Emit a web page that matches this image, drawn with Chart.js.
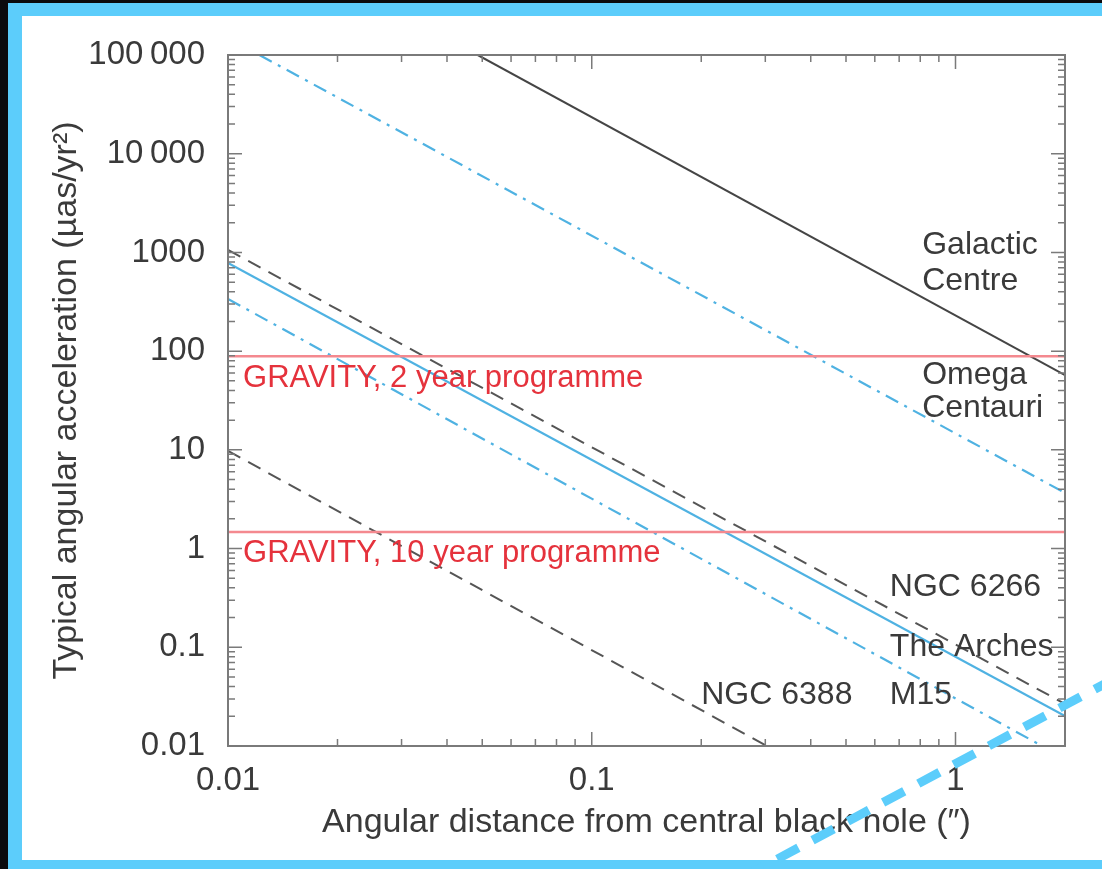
<!DOCTYPE html>
<html>
<head>
<meta charset="utf-8">
<script src="https://cdn.jsdelivr.net/npm/chart.js@4"></script>
<style>
  html, body { margin: 0; padding: 0; width: 1102px; height: 869px; overflow: hidden; background: #0b0b0d; }
  #frame { position: absolute; left: 8px; top: 3px; width: 1200px; height: 870px; box-sizing: border-box;
           border: 13px solid #5ccdfb; border-left-width: 14px; background: #fff; }
  #chart { position: absolute; left: 0; top: 0; }
  #deco { position: absolute; left: 0; top: 0; }
</style>
</head>
<body>
<div id="frame"></div>
<canvas id="chart" width="1102" height="869"></canvas>
<svg id="deco" width="1102" height="869">
  <line x1="742" y1="878" x2="1112" y2="680" stroke="#5ccdfb" stroke-width="9" stroke-dasharray="24 16"/>
</svg>
<script>
// curves (angular distance in arcsec, acceleration in µas/yr²), end points
const galacticX = [0.0486, 2],  galacticY = [100000, 57];
const omegaX    = [0.0122, 2],  omegaY    = [100000, 3.66];
const ngc6266X  = [0.01, 2],    ngc6266Y  = [1060, 0.0267];
const archesX   = [0.01, 2],    archesY   = [783, 0.0201];
const m15X      = [0.01, 1.73], m15Y      = [338, 0.01];
const ngc6388X  = [0.01, 0.303],ngc6388Y  = [9.75, 0.01];
const gravity2X = [0.01, 2],    gravity2Y = [89, 89];
const gravity10X= [0.01, 2],    gravity10Y= [1.47, 1.47];

// tick labels
const xTickValues = [0.01, 0.1, 1];
const xTickLabels = ['0.01', '0.1', '1'];
const yTickValues = [0.01, 0.1, 1, 10, 100, 1000, 10000, 100000];
const yTickLabels = ['0.01', '0.1', '1', '10', '100', '1000', '10\u2009000', '100\u2009000'];

// text annotations
const noteTexts = ['Galactic', 'Centre', 'Omega', 'Centauri', 'NGC 6266', 'The Arches', 'NGC 6388', 'M15',
                   'GRAVITY, 2 year programme', 'GRAVITY, 10 year programme'];
const noteX = [0.81, 0.81, 0.81, 0.81, 0.66, 0.66, 0.20, 0.66, 0.011, 0.011];
const noteY = [1190, 514, 57.4, 26.6, 0.41, 0.10, 0.033, 0.033, 53.5, 0.90];

const TEXT = '#3a3a3a';
const RED_TEXT = '#e5323c';
const BLUE = '#4fb2e2';
const GREY = '#555555';

function pts(xs, ys) {
    return xs.map((x, i) => ({x: x, y: ys[i]}));
}

const boxAndTicks = {
    id: 'boxAndTicks',
    afterDatasetsDraw(chart) {
        const ctx = chart.ctx;
        const a = chart.chartArea;
        const xs = chart.scales.x, ys = chart.scales.y;
        ctx.save();
        ctx.strokeStyle = '#7a7a7a';
        ctx.lineWidth = 2;
        ctx.strokeRect(a.left, a.top, a.right - a.left, a.bottom - a.top);
        ctx.lineWidth = 1.5;
        ctx.beginPath();
        for (let d = -2; d <= 5; d++) {
            for (let k = 1; k <= 9; k++) {
                const v = k * Math.pow(10, d);
                const len = k === 1 ? 14 : 7;
                if (v >= xs.min && v <= xs.max && d <= 0) {
                    const px = xs.getPixelForValue(v);
                    ctx.moveTo(px, a.bottom); ctx.lineTo(px, a.bottom - len);
                    ctx.moveTo(px, a.top); ctx.lineTo(px, a.top + len);
                }
                if (v >= ys.min && v <= ys.max) {
                    const py = ys.getPixelForValue(v);
                    ctx.moveTo(a.left, py); ctx.lineTo(a.left + len, py);
                    ctx.moveTo(a.right, py); ctx.lineTo(a.right - len, py);
                }
            }
        }
        ctx.stroke();

        ctx.textBaseline = 'middle';
        ctx.textAlign = 'left';
        noteTexts.forEach((t, i) => {
            const red = t.startsWith('GRAVITY');
            ctx.font = (red ? '31px' : '32px') + ' "Liberation Sans", Arial, sans-serif';
            ctx.fillStyle = red ? RED_TEXT : TEXT;
            ctx.fillText(t, xs.getPixelForValue(noteX[i]), ys.getPixelForValue(noteY[i]));
        });
        ctx.restore();
    }
};

const chartCanvas = document.querySelector('#chart').getContext('2d');

let accelChart = new Chart(chartCanvas, {
    type: 'line',
    data: {
        datasets: [
            { label: 'GRAVITY, 2 year programme', data: pts(gravity2X, gravity2Y), borderColor: '#f4898f', borderWidth: 2.5 },
            { label: 'GRAVITY, 10 year programme', data: pts(gravity10X, gravity10Y), borderColor: '#f4898f', borderWidth: 2.5 },
            { label: 'Galactic Centre', data: pts(galacticX, galacticY), borderColor: '#454545', borderWidth: 2 },
            { label: 'Omega Centauri', data: pts(omegaX, omegaY), borderColor: BLUE, borderWidth: 2.2, borderDash: [14, 7, 3, 7] },
            { label: 'NGC 6266', data: pts(ngc6266X, ngc6266Y), borderColor: GREY, borderWidth: 2, borderDash: [14, 9] },
            { label: 'The Arches', data: pts(archesX, archesY), borderColor: BLUE, borderWidth: 2.2 },
            { label: 'M15', data: pts(m15X, m15Y), borderColor: BLUE, borderWidth: 2.2, borderDash: [14, 7, 3, 7] },
            { label: 'NGC 6388', data: pts(ngc6388X, ngc6388Y), borderColor: GREY, borderWidth: 2, borderDash: [14, 9] }
        ]
    },
    options: {
        responsive: false,
        animation: false,
        events: [],
        layout: { padding: { left: 0, top: 55, right: 37, bottom: 0 } },
        elements: { point: { radius: 0 }, line: { tension: 0, fill: false } },
        plugins: {
            legend: { display: false },
            title: { display: false },
            tooltip: { enabled: false }
        },
        scales: {
            x: {
                type: 'logarithmic',
                min: 0.01,
                max: 2,
                grid: { display: false },
                border: { display: false },
                afterBuildTicks: s => { s.ticks = xTickValues.map(v => ({value: v, major: true})); },
                afterFit: s => { s.height = 123; },
                ticks: {
                    autoSkip: false,
                    maxRotation: 0,
                    padding: 7,
                    color: TEXT,
                    font: { family: '"Liberation Sans", Arial, sans-serif', size: 33 },
                    callback: (v) => xTickLabels[xTickValues.indexOf(v)]
                },
                title: {
                    display: true,
                    text: 'Angular distance from central black hole (\u2033)',
                    color: TEXT,
                    padding: { top: 0, bottom: 26 },
                    font: { family: '"Liberation Sans", Arial, sans-serif', size: 34 }
                }
            },
            y: {
                type: 'logarithmic',
                min: 0.01,
                max: 100000,
                grid: { display: false },
                border: { display: false },
                afterBuildTicks: s => { s.ticks = yTickValues.map(v => ({value: v, major: true})); },
                afterFit: s => { s.width = 228; },
                ticks: {
                    autoSkip: false,
                    padding: 15,
                    color: TEXT,
                    font: { family: '"Liberation Sans", Arial, sans-serif', size: 33 },
                    callback: (v) => yTickLabels[yTickValues.indexOf(v)]
                },
                title: {
                    display: true,
                    text: 'Typical angular acceleration (\u00b5as/yr\u00b2)',
                    color: TEXT,
                    padding: { top: 46, bottom: 0 },
                    font: { family: '"Liberation Sans", Arial, sans-serif', size: 34 }
                }
            }
        }
    },
    plugins: [boxAndTicks]
});
</script>
</body>
</html>
